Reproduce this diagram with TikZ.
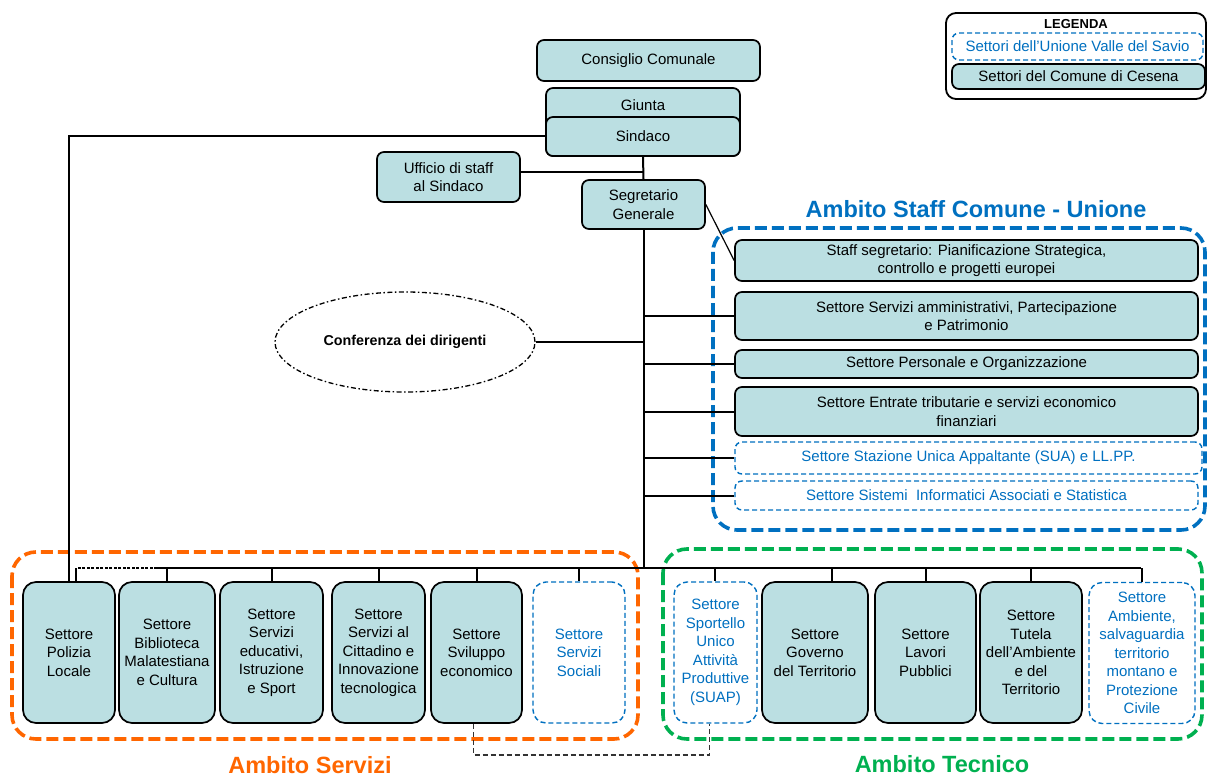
\documentclass[tikz,border=0pt]{standalone}
\usepackage{fontspec}
\setmainfont{Liberation Sans}
\usetikzlibrary{shapes.geometric}
\definecolor{teal1}{RGB}{187,223,226}
\definecolor{ublue}{RGB}{0,112,192}
\definecolor{aorange}{RGB}{255,102,0}
\definecolor{agreen}{RGB}{0,176,80}
\tikzset{
  txt/.style={font=\fontsize{15}{18.5}\selectfont},
  com/.style={txt, draw=black, line width=1.7pt, fill=teal1, rounded corners=7pt, align=center, inner sep=0pt},
  uni/.style={txt, draw=ublue, dash pattern=on 5pt off 3pt, line width=1.4pt, fill=white, rounded corners=7pt, align=center, text=ublue, inner sep=0pt},
  tall/.style={rounded corners=13pt, minimum height=141pt},
  conn/.style={line width=2pt, black},
  ambito/.style={dash pattern=on 12pt off 5pt, line width=3.6pt, rounded corners=24pt},
  titlefont/.style={font=\bfseries\fontsize{23.5}{27}\selectfont},
  lnk/.style={line width=1.4pt, black!80, dash pattern=on 5pt off 3pt}
}
\begin{document}
\begin{tikzpicture}[x=1pt,y=-1pt]
\useasboundingbox (0,0) rectangle (1208,778);

% containers
\draw[ambito, ublue] (713,228) rectangle (1205,530);
\draw[ambito, aorange] (12,552) rectangle (638,739);
\draw[ambito, agreen] (663,549) rectangle (1202,739);
\node[titlefont, text=ublue] (tstaff) at (976,209) {Ambito Staff Comune - Unione};
\node[titlefont, text=aorange] (tserv) at (310,765) {Ambito Servizi};
\node[titlefont, text=agreen] (ttec) at (942,764) {Ambito Tecnico};

% legend
\node[draw, line width=1.8pt, rounded corners=10pt, minimum width=260pt, minimum height=86pt,
      label={[font=\bfseries\fontsize{13}{15}\selectfont, anchor=north, yshift=-7pt, inner sep=0pt]north:LEGENDA}] (legenda) at (1076,56) {};
\node[uni, minimum width=251pt, minimum height=27pt] (leg1) at (1077.5,46.5) {Settori dell'Unione Valle del Savio};
\node[com, minimum width=253pt, minimum height=25pt] (leg2) at (1078.5,76.5) {Settori del Comune di Cesena};

% top
\node[com, minimum width=223pt, minimum height=41pt] (consiglio) at (648.5,60.5) {Consiglio Comunale};
\node[com, minimum width=194pt, minimum height=68pt,
      label={[txt, anchor=north, yshift=-12pt, inner sep=0pt]north:Giunta}] (giunta) at (643,122) {};
\node[com, minimum width=194pt, minimum height=39pt] (sindaco) at (643,136.5) {Sindaco};
\node[com, minimum width=143pt, minimum height=50pt] (ufficio) at (448.5,177) {Ufficio di staff\\al Sindaco};
\node[com, minimum width=123pt, minimum height=49pt] (segretario) at (643.5,204.5) {Segretario\\Generale};
\node[draw, ellipse, line width=1.3pt, dash pattern=on 5pt off 2.5pt on 1.5pt off 2.5pt,
      minimum width=260pt, minimum height=100pt, font=\bfseries\fontsize{14.3}{17}\selectfont] (conf) at (405,342) {Conferenza dei dirigenti};

% right column
\node[com, minimum width=463pt, minimum height=41pt] (staff) at (966.5,260.5) {Staff segretario: Pianificazione Strategica,\\controllo e progetti europei};
\node[com, minimum width=463pt, minimum height=48pt] (servamm) at (966.5,316) {Settore Servizi amministrativi, Partecipazione\\e Patrimonio};
\node[com, minimum width=463pt, minimum height=28pt] (personale) at (966.5,364) {Settore Personale e Organizzazione};
\node[com, minimum width=463pt, minimum height=49pt] (entrate) at (966.5,411.5) {Settore Entrate tributarie e servizi economico\\finanziari};
\node[uni, minimum width=467pt, minimum height=32pt] (sua) at (968.5,458) {Settore Stazione Unica Appaltante (SUA) e LL.PP.};
\node[uni, minimum width=463pt, minimum height=29pt] (sistemi) at (966.5,495.5) {Settore Sistemi\ \ Informatici Associati e Statistica};

% bottom boxes
\node[com, tall, minimum width=92pt] (polizia) at (69,652.5) {Settore\\Polizia\\Locale};
\node[com, tall, minimum width=96pt] (biblio) at (167,652.5) {Settore\\Biblioteca\\Malatestiana\\e Cultura};
\node[com, tall, minimum width=103pt] (educ) at (271.5,652.5) {Settore\\Servizi\\educativi,\\Istruzione\\e Sport};
\node[com, tall, minimum width=93pt] (citt) at (378.5,652.5) {Settore\\Servizi al\\Cittadino e\\Innovazione\\tecnologica};
\node[com, tall, minimum width=91pt] (svil) at (476.5,652.5) {Settore\\Sviluppo\\economico};
\node[uni, tall, minimum width=92pt] (sociali) at (579,652.5) {Settore\\Servizi\\Sociali};
\node[uni, tall, minimum width=83pt] (suap) at (715.5,652.5) {Settore\\Sportello\\Unico\\Attività\\Produttive\\(SUAP)};
\node[com, tall, minimum width=106pt] (governo) at (815,652.5) {Settore\\Governo\\del Territorio};
\node[com, tall, minimum width=101pt] (lavori) at (925.5,652.5) {Settore\\Lavori\\Pubblici};
\node[com, tall, minimum width=102pt] (tutela) at (1031,652.5) {Settore\\Tutela\\dell'Ambiente\\e del\\Territorio};
\node[uni, tall, minimum width=106pt] (ambiente) at (1142,653) {Settore\\Ambiente,\\salvaguardia\\territorio\\montano e\\Protezione\\Civile};

% connectors top
\draw[conn] (sindaco.south) -- (segretario.north);
\draw[conn] (ufficio.east |- 0,172) coordinate (uffR) -- (uffR -| sindaco.south);
\draw[conn] (sindaco.west) -| (polizia.north);
\draw[line width=1.2pt] (segretario.east) -- (staff.west);
\coordinate (busL) at (157,568);
\coordinate (busR) at (1141,568);
\draw[conn] (segretario.south) -- (segretario.south |- busL);
\draw[conn] (conf.east) -- (conf.east -| segretario.south);
\foreach \b in {servamm, personale, entrate, sua, sistemi}
  \draw[conn] (\b.west -| segretario.south) -- (\b.west);

% bus and drops
\draw[conn] (busL) -- (busR);
\draw[line width=1.3pt, dash pattern=on 3pt off 1.5pt] (busL) -- (76,568) coordinate (polbus);
\draw[conn] (polbus) -- (polbus |- polizia.north);
\foreach \b in {biblio, educ, citt, svil, sociali, lavori, tutela, ambiente}
  \draw[conn] (\b.north |- busL) -- (\b.north);
\draw[conn] ([xshift=-1pt]suap.north |- busL) -- ([xshift=-1pt]suap.north);
\draw[conn] ([xshift=17pt]governo.north |- busL) -- ([xshift=17pt]governo.north);

% dashed link Sviluppo - SUAP
\draw[lnk] ([xshift=-3pt]svil.south) -- ++(0,31) -| ([xshift=-6pt]suap.south);
\end{tikzpicture}
\end{document}
